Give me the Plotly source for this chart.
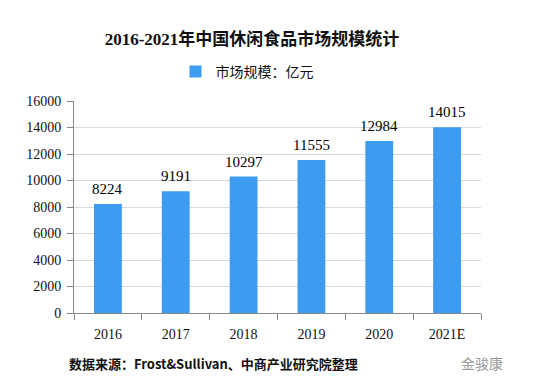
import plotly.graph_objects as go

categories = ["2016", "2017", "2018", "2019", "2020", "2021E"]
values = [8224, 9191, 10297, 11555, 12984, 14015]
series_name = "市场规模：亿元"
title_text = "2016-2021年中国休闲食品市场规模统计"
source_text = "数据来源：Frost&Sullivan、中商产业研究院整理"
y_ticks = [0, 2000, 4000, 6000, 8000, 10000, 12000, 14000, 16000]

serif = "Liberation Serif, Noto Sans CJK SC, serif"
cjk = "Noto Sans CJK SC, sans-serif"

W, H = 549, 389
ML, MR, MT, MB = 74, 68, 101, 76
PW, PH = W - ML - MR, H - MT - MB


def px_x(px):
    return (px - ML) / PW


def px_y(py):
    return (H - MB - py) / PH


fig = go.Figure()
fig.add_trace(go.Bar(
    x=categories, y=values, name=series_name,
    marker=dict(color="#3d9cf0", line=dict(width=0)),
    width=0.41, hoverinfo="x+y",
))

# value labels above bars (category axis positions by index)
for i, v in enumerate(values):
    fig.add_annotation(x=i, y=v, text=str(v), xref="x", yref="y",
                       showarrow=False, yanchor="bottom", yshift=5,
                       font=dict(family=serif, size=15, color="#000000"))

fig.update_layout(
    width=W, height=H,
    margin=dict(l=ML, r=MR, t=MT, b=MB, autoexpand=False),
    paper_bgcolor="white", plot_bgcolor="white",
    title=dict(text="<b>" + title_text + "</b>", x=252/W, xanchor="center",
               y=1-39/H, yanchor="middle", xref="container", yref="container",
               font=dict(family=serif, size=17, color="#111111")),
    showlegend=True,
    legend=dict(orientation="h", x=247/W, xanchor="center", y=1-72/H, yanchor="middle",
                xref="container", yref="container",
                font=dict(family=cjk, size=14, color="#111111"),
                itemwidth=30, bgcolor="rgba(0,0,0,0)"),
    bargap=0.59,
)

fig.update_yaxes(range=[0, 16000], tickvals=y_ticks, ticktext=[str(t) for t in y_ticks],
                 showgrid=True, gridcolor="#d9d9d9",
                 gridwidth=1, showline=True, linecolor="#888888", linewidth=1,
                 ticks="outside", ticklen=6, tickcolor="#888888", ticklabelstandoff=3,
                 tickfont=dict(family=serif, size=14, color="#111111"), zeroline=False)
fig.update_xaxes(type="category", categoryorder="array", categoryarray=categories,
                 range=[-0.5, len(categories) - 0.5],
                 showline=True, linecolor="#888888", linewidth=1, ticks="outside",
                 tickson="boundaries", ticklen=6, tickcolor="#888888", ticklabelstandoff=8,
                 tickfont=dict(family=serif, size=14, color="#111111"))

fig.add_annotation(text="<b>" + source_text + "</b>", x=px_x(67), y=px_y(363),
                   xref="paper", yref="paper", xanchor="left", yanchor="middle",
                   showarrow=False, font=dict(family=cjk, size=13, color="#111111"))
fig.add_annotation(text="金骏康", x=px_x(505), y=px_y(363),
                   xref="paper", yref="paper", xanchor="right", yanchor="middle",
                   showarrow=False, font=dict(family=cjk, size=14, color="#9a9a9a"))

fig.write_html("out.html", config={"displayModeBar": False},
               post_script="document.body.style.margin='0px';")
